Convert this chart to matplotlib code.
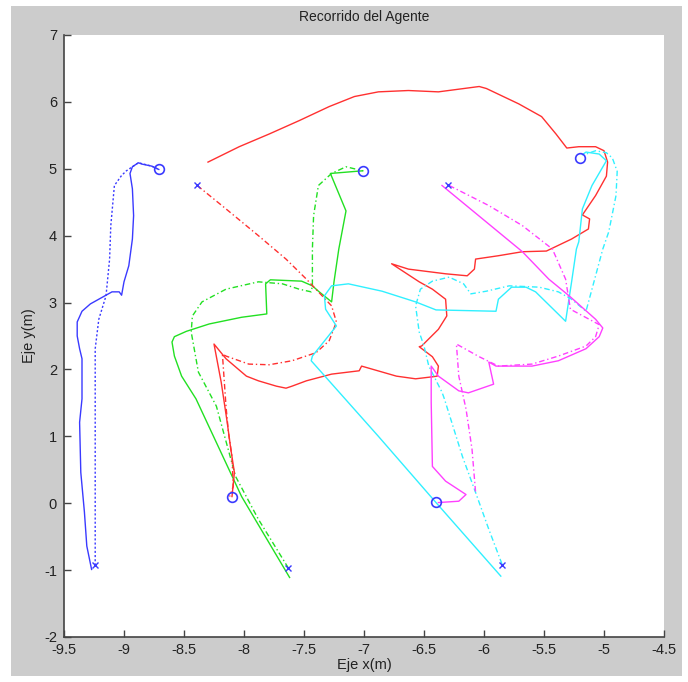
import matplotlib
matplotlib.use("Agg")
import matplotlib.pyplot as plt
from matplotlib.patches import Rectangle

plt.rcParams['font.family'] = ['Liberation Sans', 'DejaVu Sans']
plt.rcParams['axes.unicode_minus'] = False

# Trayectorias de cada agente (x, y en metros)
# azul
blue_x = [-9.27, -9.31, -9.33, -9.36, -9.37, -9.35, -9.35, -9.37, -9.39, -9.39, -9.35, -9.28, -9.18, -9.10,
          -9.04, -9.02, -9.00, -8.96, -8.93, -8.92, -8.93, -8.95, -8.93, -8.88, -8.85, -8.77, -8.71]
blue_y = [-0.99, -0.64, -0.13, 0.46, 1.21, 1.56, 2.16, 2.31, 2.50, 2.71, 2.87, 2.98, 3.08, 3.16,
          3.16, 3.11, 3.31, 3.55, 3.95, 4.30, 4.70, 4.93, 5.03, 5.09, 5.07, 5.04, 4.99]
blue_ref_x = [-9.24, -9.24, -9.24, -9.21, -9.15, -9.12, -9.11, -9.08, -9.02, -8.98, -8.88, -8.77, -8.71]
blue_ref_y = [-0.93, 0.81, 2.31, 2.75, 3.10, 3.65, 4.15, 4.75, 4.90, 4.97, 5.09, 5.04, 4.99]

# verde
green_x = [-7.62, -8.02, -8.40, -8.52, -8.58, -8.60, -8.58, -8.48, -8.29, -8.02, -7.81, -7.82, -7.78,
           -7.52, -7.43, -7.38, -7.27, -7.25, -7.21, -7.15, -7.28, -7.01]
green_y = [-1.11, 0.10, 1.56, 1.90, 2.20, 2.41, 2.49, 2.57, 2.68, 2.78, 2.83, 3.28, 3.34,
           3.32, 3.25, 3.17, 3.01, 3.31, 3.80, 4.37, 4.93, 4.97]
green_ref_x = [-7.63, -7.88, -8.07, -8.23, -8.38, -8.43, -8.44, -8.43, -8.35, -8.15, -7.88, -7.68, -7.54,
               -7.44, -7.43, -7.43, -7.42, -7.38, -7.27, -7.15, -7.01]
green_ref_y = [-0.97, -0.24, 0.40, 1.45, 1.96, 2.46, 2.56, 2.80, 3.01, 3.20, 3.31, 3.28, 3.20,
               3.16, 3.25, 3.80, 4.30, 4.75, 4.93, 5.03, 4.97]

# rojo
red_x = [-8.30, -8.04, -7.79, -7.54, -7.29, -7.08, -6.88, -6.63, -6.38, -6.04, -5.98, -5.71, -5.52, -5.40,
         -5.31, -5.21, -5.07, -5.00, -4.97, -4.98, -5.07, -5.18, -5.12, -5.13, -5.27, -5.48, -5.68, -5.88,
         -6.07, -6.08, -6.14, -6.32, -6.63, -6.77, -6.54, -6.43, -6.32, -6.31, -6.38, -6.52, -6.54, -6.43,
         -6.38, -6.39, -6.43, -6.57, -6.73, -7.02, -7.04, -7.27, -7.48, -7.60, -7.65, -7.73, -7.88, -7.98,
         -8.15, -8.25, -8.19, -8.14, -8.11, -8.08, -8.10]
red_y = [5.10, 5.33, 5.52, 5.72, 5.93, 6.08, 6.15, 6.17, 6.15, 6.23, 6.20, 5.97, 5.78, 5.52,
         5.31, 5.33, 5.33, 5.27, 5.10, 4.89, 4.60, 4.31, 4.25, 4.10, 3.95, 3.77, 3.76, 3.70,
         3.65, 3.50, 3.40, 3.43, 3.50, 3.58, 3.31, 3.20, 3.05, 2.80, 2.60, 2.35, 2.34, 2.19,
         2.05, 1.90, 1.89, 1.86, 1.90, 2.05, 1.98, 1.93, 1.83, 1.75, 1.72, 1.75, 1.83, 1.90,
         2.16, 2.38, 1.81, 1.21, 0.81, 0.46, 0.10]
red_ref_x = [-8.39, -8.15, -7.88, -7.65, -7.48, -7.38, -7.27, -7.23, -7.29, -7.40, -7.60, -7.79, -7.96,
             -8.15, -8.18, -8.15, -8.13, -8.10, -8.09, -8.12]
red_ref_y = [4.75, 4.40, 4.00, 3.65, 3.35, 3.16, 2.95, 2.71, 2.43, 2.25, 2.13, 2.07, 2.08,
             2.20, 2.23, 1.45, 1.06, 0.70, 0.25, 0.10]

# cian
cyan_x = [-5.86, -6.40, -6.88, -7.44, -7.43, -7.23, -7.32, -7.33, -7.27, -7.13, -6.85, -6.57, -6.40, -5.90,
          -5.88, -5.77, -5.65, -5.57, -5.32, -5.27, -5.23, -5.21, -5.18, -5.10, -4.98, -5.04, -5.15, -5.18]
cyan_y = [-1.09, 0.01, 1.00, 2.13, 2.20, 2.65, 2.90, 3.10, 3.25, 3.28, 3.17, 3.01, 2.89, 2.87,
          3.05, 3.23, 3.23, 3.16, 2.72, 3.31, 3.80, 3.91, 4.40, 4.75, 5.12, 5.22, 5.25, 5.21]
cyan_ref_x = [-5.85, -5.96, -6.07, -6.18, -6.33, -6.35, -6.46, -6.50, -6.54, -6.57, -6.53, -6.43, -6.29,
              -6.17, -6.11, -5.98, -5.79, -5.54, -5.38, -5.27, -5.15, -5.01, -4.96, -4.90, -4.89, -4.93,
              -4.98, -5.07, -5.15]
cyan_ref_y = [-0.91, -0.39, 0.16, 0.70, 1.56, 1.66, 2.05, 2.35, 2.56, 2.95, 3.20, 3.32, 3.38,
              3.28, 3.13, 3.17, 3.25, 3.23, 3.16, 3.05, 2.87, 3.80, 4.06, 4.60, 4.96, 5.16,
              5.24, 5.27, 5.22]

# magenta
mag_x = [-6.35, -5.68, -5.46, -5.29, -5.07, -5.01, -5.04, -5.15, -5.38, -5.60, -5.90, -5.96, -5.92,
         -6.13, -6.21, -6.38, -6.44, -6.44, -6.43, -6.32, -6.15, -6.21, -6.38]
mag_y = [4.75, 3.76, 3.35, 3.10, 2.75, 2.62, 2.49, 2.31, 2.13, 2.05, 2.05, 2.11, 1.78,
         1.65, 1.68, 1.90, 2.05, 1.51, 0.55, 0.33, 0.13, 0.03, 0.01]
mag_ref_x = [-6.29, -5.96, -5.68, -5.43, -5.32, -5.28, -5.04, -5.07, -5.15, -5.38, -5.60, -5.88, -6.04,
             -6.23, -6.21, -6.15, -6.10, -6.07]
mag_ref_y = [4.75, 4.45, 4.15, 3.80, 3.35, 2.90, 2.67, 2.49, 2.35, 2.20, 2.08, 2.05, 2.19,
             2.38, 1.90, 1.41, 0.81, 0.16]

# puntos de inicio (x) y de llegada (o)
start_x = [-9.24, -7.63, -8.39, -5.85, -6.30]
start_y = [-0.93, -0.97, 4.75, -0.92, 4.75]
goal_x = [-8.71, -7.01, -8.10, -5.20, -6.40]
goal_y = [4.99, 4.97, 0.09, 5.16, 0.02]

fig = plt.figure(figsize=(6.88, 6.82), dpi=100, facecolor='white')
# marco gris de la ventana
fig.patches.append(Rectangle((11 / 688, 6 / 682), 671 / 688, 670 / 682, transform=fig.transFigure,
                             facecolor='#cccccc', edgecolor='none', zorder=-10))

ax = fig.add_axes([64 / 688, 1 - 637 / 682, 600 / 688, 602 / 682])
ax.set_facecolor('white')

dash = (0, (4, 2, 1, 2))
lw = 1.0
ax.plot(blue_x, blue_y, color='#3a3aff', lw=lw)
ax.plot(blue_ref_x, blue_ref_y, color='#3a3aff', lw=lw, linestyle=(0, (1.5, 1.5)))
ax.plot(green_x, green_y, color='#22e022', lw=lw)
ax.plot(green_ref_x, green_ref_y, color='#22e022', lw=lw, linestyle=dash)
ax.plot(red_x, red_y, color='#ff3030', lw=lw)
ax.plot(red_ref_x, red_ref_y, color='#ff3030', lw=lw, linestyle=dash)
ax.plot(cyan_x, cyan_y, color='#30f0ff', lw=lw)
ax.plot(cyan_ref_x, cyan_ref_y, color='#30f0ff', lw=lw, linestyle=dash)
ax.plot(mag_x, mag_y, color='#ff40ff', lw=lw)
ax.plot(mag_ref_x, mag_ref_y, color='#ff40ff', lw=lw, linestyle=dash)

ax.plot(start_x, start_y, 'x', color='#3a3aff', markersize=5, mew=1)
ax.plot(goal_x, goal_y, 'o', color='#3a3aff', markersize=7, mfc='none', mew=1.2)

ax.set_xlim(-9.5, -4.5)
ax.set_ylim(-2, 7)
ax.set_xticks([-9.5, -9, -8.5, -8, -7.5, -7, -6.5, -6, -5.5, -5, -4.5])
ax.set_xticklabels(['-9.5', '-9', '-8.5', '-8', '-7.5', '-7', '-6.5', '-6', '-5.5', '-5', '-4.5'])
ax.set_yticks(range(-2, 8))

for side in ['top', 'right']:
    ax.spines[side].set_visible(False)
for side in ['left', 'bottom']:
    ax.spines[side].set_color('#444444')
    ax.spines[side].set_linewidth(1.2)
ax.tick_params(direction='in', length=5, width=1, colors='#444444', labelcolor='#222222',
               labelsize=10.5)
ax.tick_params(axis='x', pad=4)
ax.tick_params(axis='y', pad=5)

ax.set_title('Recorrido del Agente', fontsize=10, color='#222222', pad=10)
ax.set_xlabel('Eje x(m)', fontsize=10.5, color='#222222', labelpad=1)
ax.set_ylabel('Eje y(m)', fontsize=10.5, color='#222222', labelpad=6)

fig.savefig('out.png', dpi=100, facecolor=fig.get_facecolor())
